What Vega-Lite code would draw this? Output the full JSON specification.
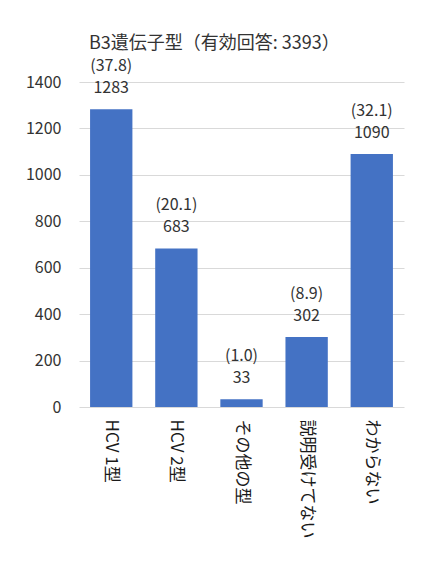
{
  "$schema": "https://vega.github.io/schema/vega-lite/v6.json",
  "autosize": "none",
  "width": 325,
  "height": 325,
  "padding": {"left": 79, "top": 82, "right": 21, "bottom": 155},
  "background": "#ffffff",
  "title": {
    "text": "B3遺伝子型（有効回答: 3393）",
    "anchor": "start",
    "frame": "group",
    "dx": 10,
    "offset": 5,
    "font": "Noto Sans CJK JP",
    "fontSize": 18,
    "fontWeight": "normal",
    "color": "#333333"
  },
  "data": {
    "values": [
      {"genotype": "HCV 1型", "count": 1283, "pct": "(37.8)"},
      {"genotype": "HCV 2型", "count": 683, "pct": "(20.1)"},
      {"genotype": "その他の型", "count": 33, "pct": "(1.0)"},
      {"genotype": "説明受けてない", "count": 302, "pct": "(8.9)"},
      {"genotype": "わからない", "count": 1090, "pct": "(32.1)"}
    ]
  },
  "transform": [
    {"calculate": "datum.pct + '\\n' + datum.count", "as": "label"}
  ],
  "encoding": {
    "x": {
      "field": "genotype",
      "type": "nominal",
      "sort": null,
      "title": null,
      "scale": {"paddingInner": 0.35, "paddingOuter": 0.17},
      "axis": {
        "labelAngle": 90,
        "labelAlign": "left",
        "labelBaseline": "middle",
        "labelPadding": 12,
        "labelFontSize": 17,
        "labelFont": "Noto Sans CJK JP",
        "labelColor": "#1a1a1a",
        "ticks": false,
        "domain": false
      }
    },
    "y": {
      "field": "count",
      "type": "quantitative",
      "title": null,
      "scale": {"domain": [0, 1400]},
      "axis": {
        "values": [0, 200, 400, 600, 800, 1000, 1200, 1400],
        "format": "d",
        "labelFontSize": 16,
        "labelFont": "Noto Sans CJK JP",
        "labelColor": "#333333",
        "labelPadding": 18,
        "ticks": false,
        "domain": false,
        "gridColor": "#d9d9d9",
        "gridWidth": 1
      }
    }
  },
  "layer": [
    {"mark": {"type": "bar", "color": "#4472c4"}},
    {
      "mark": {
        "type": "text",
        "baseline": "bottom",
        "lineBreak": "\n",
        "lineHeight": 22,
        "dy": -35,
        "font": "Noto Sans CJK JP",
        "fontSize": 16,
        "color": "#333333"
      },
      "encoding": {"text": {"field": "label", "type": "nominal"}}
    }
  ],
  "config": {"view": {"stroke": null}}
}
